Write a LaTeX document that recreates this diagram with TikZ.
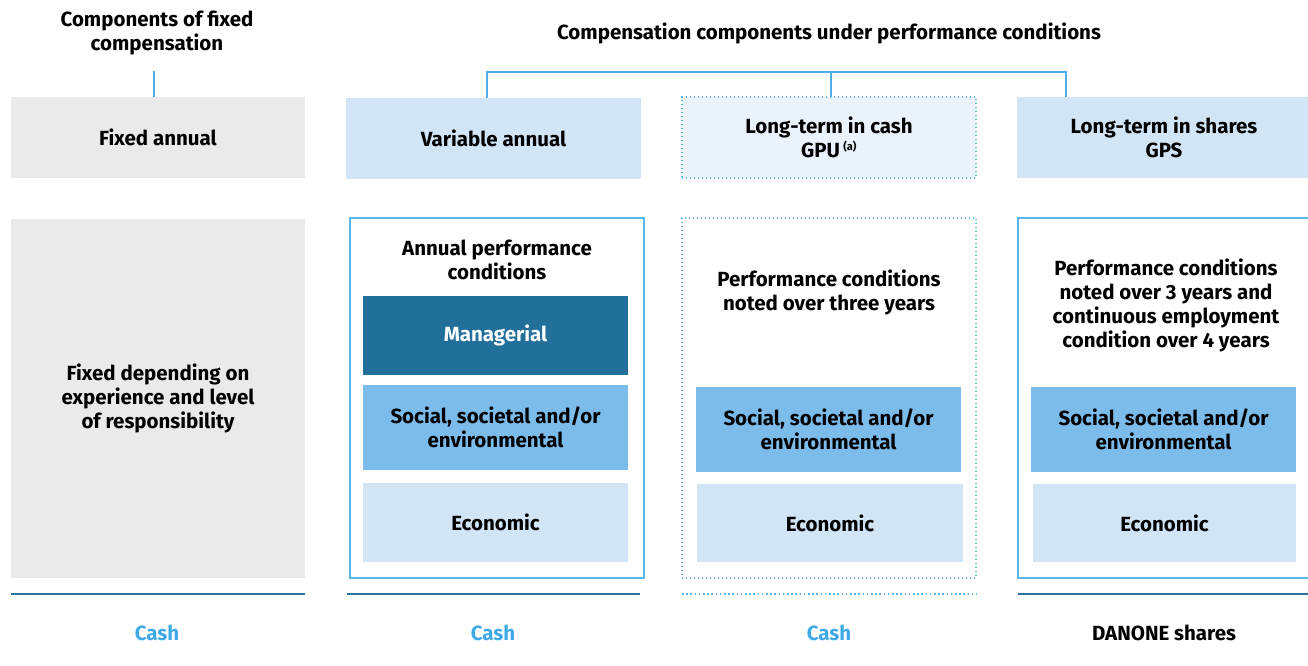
\documentclass[tikz,border=0pt]{standalone}
\usepackage{fontspec}
\setmainfont{Fira Sans}
\definecolor{cgray}{HTML}{EAEAEA}
\definecolor{clight}{HTML}{D1E5F7}
\definecolor{cpale}{HTML}{EAF3FC}
\definecolor{cmid}{HTML}{7BBCEB}
\definecolor{cdark}{HTML}{236F9B}
\definecolor{cline}{HTML}{4FAEE8}
\definecolor{cborder}{HTML}{5AB6EE}
\definecolor{ccash}{HTML}{3FA9E8}
\definecolor{cbase}{HTML}{2A72A0}
\tikzset{
  txt/.style={font=\fontsize{20.5}{24}\selectfont\bfseries, align=center, text=black, inner sep=0pt},
  fillbox/.style 2 args={txt, fill=#1, minimum width=#2, inner sep=0pt, outer sep=0pt},
  conn/.style={draw=cline, line width=2pt},
  solidframe/.style={draw=cborder, line width=2pt},
  dotframe/.style={draw=cborder, line width=1.6pt, dash pattern=on 1.4pt off 2.6pt},
  baseline/.style={draw=cbase, line width=2.6pt},
  dotbase/.style={draw=cborder, line width=2pt, dash pattern=on 1.6pt off 2.6pt},
  cashlbl/.style={txt, text=ccash},
}
\begin{document}
\begin{tikzpicture}[x=1pt,y=-1pt]
\useasboundingbox (0,0) rectangle (1308,666);
\begin{scope}
\clip (0,0) rectangle (1308,666);
% headers
\node[txt] (hfix) at (157,33) {Components of fixed\\compensation};
\node[txt] (hperf) at (829,33) {Compensation components under performance conditions};

% top row boxes
\node[fillbox={cgray}{294pt}, minimum height=81pt] (fixA) at (158,137.5) {Fixed annual};
\node[fillbox={clight}{295pt}, minimum height=81pt] (varA) at (493.5,138.5) {Variable annual};
\node[fillbox={cpale}{294pt}, minimum height=81pt, dotframe] (ltcA) at (829,137.5) {Long-term in cash\\GPU\,\textsuperscript{\fontsize{11}{11}\selectfont(a)}};
\node[fillbox={clight}{294pt}, minimum height=81pt] (ltsA) at (1164,137.5) {Long-term in shares\\GPS};

% connectors
\coordinate (fixtop) at (154,71);
\draw[conn] (fixtop) -- (fixtop |- fixA.north);
\coordinate (brL) at (487,72);
\coordinate (brM) at (831,72);
\coordinate (brR) at (1066,72);
\draw[conn] (brL |- varA.north) -- (brL) -- (brR) -- (brR |- ltsA.north);
\draw[conn] (brM) -- (brM |- ltcA.north);

% second row
\node[fillbox={cgray}{294pt}, minimum height=359pt] (fixB) at (158,398.5) {Fixed depending on\\experience and level\\of responsibility};

\node[solidframe, minimum width=294pt, minimum height=360pt, inner sep=0pt] (varB) at (497,398) {};
\node[txt] (varT) at (497,260) {Annual performance\\conditions};
\node[fillbox={cdark}{265pt}, minimum height=79pt, text=white] (man) at (495.5,335.5) {Managerial};
\node[fillbox={cmid}{265pt}, minimum height=85pt] (soc1) at (495.5,427.5) {Social, societal and/or\\environmental};
\node[fillbox={clight}{265pt}, minimum height=79pt] (eco1) at (495.5,522.5) {Economic};

\node[dotframe, minimum width=294pt, minimum height=360pt, inner sep=0pt] (ltcB) at (829,398) {};
\node[txt] (ltcT) at (829,292) {Performance conditions\\noted over three years};
\node[fillbox={cmid}{265pt}, minimum height=85pt] (soc2) at (828.5,429.5) {Social, societal and/or\\environmental};
\node[fillbox={clight}{266pt}, minimum height=78pt] (eco2) at (830,523) {Economic};

\node[solidframe, minimum width=294pt, minimum height=360pt, inner sep=0pt] (ltsB) at (1165,398) {};
\node[txt] (ltsT) at (1166,305) {Performance conditions\\noted over 3 years and\\continuous employment\\condition over 4 years};
\node[fillbox={cmid}{265pt}, minimum height=85pt] (soc3) at (1163.5,429.5) {Social, societal and/or\\environmental};
\node[fillbox={clight}{263pt}, minimum height=78pt] (eco3) at (1164.5,523) {Economic};

% base lines
\draw[baseline] (11,594) -- (305,594);
\draw[baseline] (347,594) -- (640,594);
\draw[dotbase] (682,594) -- (977,594);
\draw[baseline] (1018,594) -- (1308,594);

% bottom labels
\node[cashlbl] (c1) at (157,633) {Cash};
\node[cashlbl] (c2) at (493,633) {Cash};
\node[cashlbl] (c3) at (829,633) {Cash};
\node[txt] (c4) at (1164,633) {DANONE shares};
\end{scope}
\end{tikzpicture}
\end{document}
